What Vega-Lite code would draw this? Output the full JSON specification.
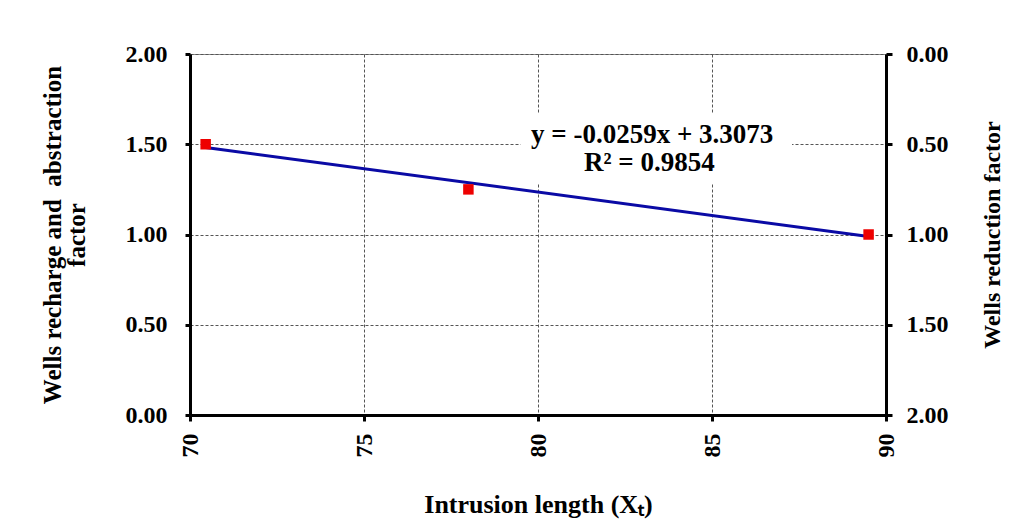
{
  "$schema": "https://vega.github.io/schema/vega-lite/v6.json",
  "width": 696,
  "height": 361,
  "autosize": "none",
  "padding": {"left": 190, "top": 54, "right": 146, "bottom": 117},
  "background": "white",
  "config": {
    "font": "Liberation Serif",
    "view": {"stroke": "#8c8c8c", "strokeWidth": 1},
    "axis": {
      "labelFont": "Liberation Serif", "labelFontWeight": "bold", "labelFontSize": 24, "labelColor": "black",
      "titleFont": "Liberation Serif", "titleFontWeight": "bold", "titleFontSize": 24, "titleColor": "black",
      "domainColor": "black", "domainWidth": 3, "tickColor": "black", "tickWidth": 3, "tickSize": 6,
      "gridColor": "#555555", "gridDash": [3, 2], "gridWidth": 1
    }
  },
  "datasets": {
    "obs": [
      {"x": 70.45, "y": 1.50, "r": 0.50},
      {"x": 78.0, "y": 1.25, "r": 0.75},
      {"x": 89.5, "y": 1.00, "r": 1.00}
    ],
    "fit": [
      {"x": 70.45, "y": 1.482},
      {"x": 89.5, "y": 0.989}
    ],
    "box": [
      {"x1": 79.5, "x2": 87.3, "y1": 1.285, "y2": 1.673}
    ],
    "eq": [
      {"x": 83.28, "y": 1.551, "t": "y = -0.0259x + 3.3073"},
      {"x": 83.2, "y": 1.396, "t": "R² = 0.9854"}
    ]
  },
  "layer": [
    {
      "layer": [
        {
          "data": {"name": "box"},
          "mark": {"type": "rect", "color": "white"},
          "encoding": {
            "x": {"field": "x1", "type": "quantitative", "scale": {"domain": [70, 90], "nice": false, "zero": false},
              "axis": {"values": [70, 75, 80, 85, 90], "labelAngle": 270, "labelPadding": 12, "title": "Intrusion length (Xₜ)", "titlePadding": 34, "titleFontSize": 26, "grid": true}},
            "x2": {"field": "x2"},
            "y": {"field": "y1", "type": "quantitative", "scale": {"domain": [0, 2], "nice": false, "zero": false},
              "axis": {"values": [0, 0.5, 1, 1.5, 2], "format": ".2f", "labelPadding": 18, "tickSize": 5, "title": ["Wells recharge and\u00a0 abstraction", "factor"], "titleFontSize": 25, "titlePadding": 36, "titleLineHeight": 24, "grid": true}},
            "y2": {"field": "y2"}
          }
        },
        {
          "data": {"name": "fit"},
          "mark": {"type": "line", "color": "#0a0aa5", "strokeWidth": 3},
          "encoding": {
            "x": {"field": "x", "type": "quantitative"},
            "y": {"field": "y", "type": "quantitative"}
          }
        },
        {
          "data": {"name": "obs"},
          "mark": {"type": "square", "color": "#ee0000", "opacity": 1, "size": 110},
          "encoding": {
            "x": {"field": "x", "type": "quantitative"},
            "y": {"field": "y", "type": "quantitative"}
          }
        },
        {
          "data": {"name": "eq"},
          "mark": {"type": "text", "font": "Liberation Serif", "fontWeight": "bold", "fontSize": 27, "color": "black"},
          "encoding": {
            "x": {"field": "x", "type": "quantitative"},
            "y": {"field": "y", "type": "quantitative"},
            "text": {"field": "t"}
          }
        }
      ]
    },
    {
      "data": {"name": "obs"},
      "mark": {"type": "point", "opacity": 0},
      "encoding": {
        "x": {"field": "x", "type": "quantitative"},
        "y": {"field": "r", "type": "quantitative", "scale": {"domain": [0, 2], "reverse": true, "nice": false, "zero": false},
          "axis": {"orient": "right", "values": [0, 0.5, 1, 1.5, 2], "format": ".2f", "labelPadding": 14, "grid": false, "title": "Wells reduction factor", "titleAngle": 270, "titlePadding": 56}}
      }
    }
  ],
  "resolve": {"scale": {"y": "independent"}}
}
